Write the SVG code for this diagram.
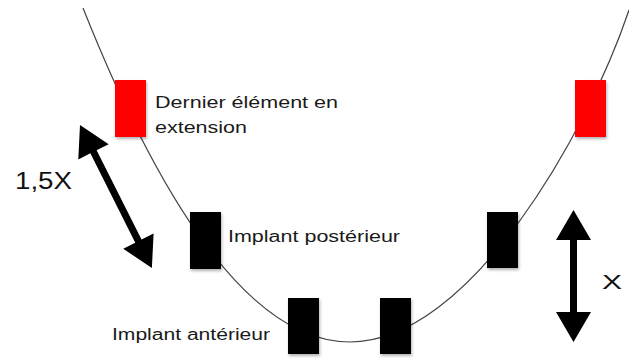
<svg xmlns="http://www.w3.org/2000/svg" width="629" height="360" viewBox="0 0 629 360">
  <defs>
    <filter id="sh" x="-30%" y="-30%" width="160%" height="160%">
      <feDropShadow dx="1" dy="2" stdDeviation="1.5" flood-color="#000" flood-opacity="0.3"/>
    </filter>
    <style>
      .curve { fill: none; stroke: #444; stroke-width: 1.2; }
      .red { fill: #ff0000; filter: url(#sh); }
      .blk { fill: #000; filter: url(#sh); }
      .lbl { font-family: "Liberation Sans", Arial, sans-serif; font-size: 16px; fill: #1a1a1a; }
      .big { font-family: "Liberation Sans", Arial, sans-serif; fill: #111; }
      .arrow { fill: #000; }
    </style>
  </defs>
  <rect width="629" height="360" fill="#fff"/>
  <g id="connectors">
    <path class="curve" d="M83,8 Q216,342 350,342 C470,342 588,132 629,10"/>
    <polygon id="arrow-15x" class="arrow" transform="translate(80,125) rotate(63.3)" points="0,0 30,-17 30,-3.5 130,-3.5 130,-17 160,0 130,17 130,3.5 30,3.5 30,17"/>
    <polygon id="arrow-x" class="arrow" points="573.5,210 591,240 577,240 577,312 591,312 573.5,342 556,312 570,312 570,240 556,240"/>
  </g>
  <g id="last-left"><rect class="red" x="115" y="80" width="31" height="57"/></g>
  <g id="last-right"><rect class="red" x="575" y="80" width="31" height="57"/></g>
  <g id="post-left"><rect class="blk" x="190" y="212" width="31" height="57"/></g>
  <g id="post-right"><rect class="blk" x="487" y="212" width="31" height="56"/></g>
  <g id="ant-left"><rect class="blk" x="288" y="298" width="31" height="56"/></g>
  <g id="ant-right"><rect class="blk" x="380" y="298" width="31" height="56"/></g>
  <g id="labels">
    <text class="lbl" x="155" y="108" textLength="183" lengthAdjust="spacingAndGlyphs">Dernier élément en</text>
    <text class="lbl" x="155" y="133" textLength="92" lengthAdjust="spacingAndGlyphs">extension</text>
    <text class="lbl" x="228" y="242" textLength="172" lengthAdjust="spacingAndGlyphs">Implant postérieur</text>
    <text class="lbl" x="112" y="340" textLength="158" lengthAdjust="spacingAndGlyphs">Implant antérieur</text>
    <text class="big" x="15" y="189" font-size="24" textLength="57" lengthAdjust="spacingAndGlyphs">1,5X</text>
    <text class="big" x="602" y="289" font-size="20" textLength="20" lengthAdjust="spacingAndGlyphs">X</text>
  </g>
</svg>
